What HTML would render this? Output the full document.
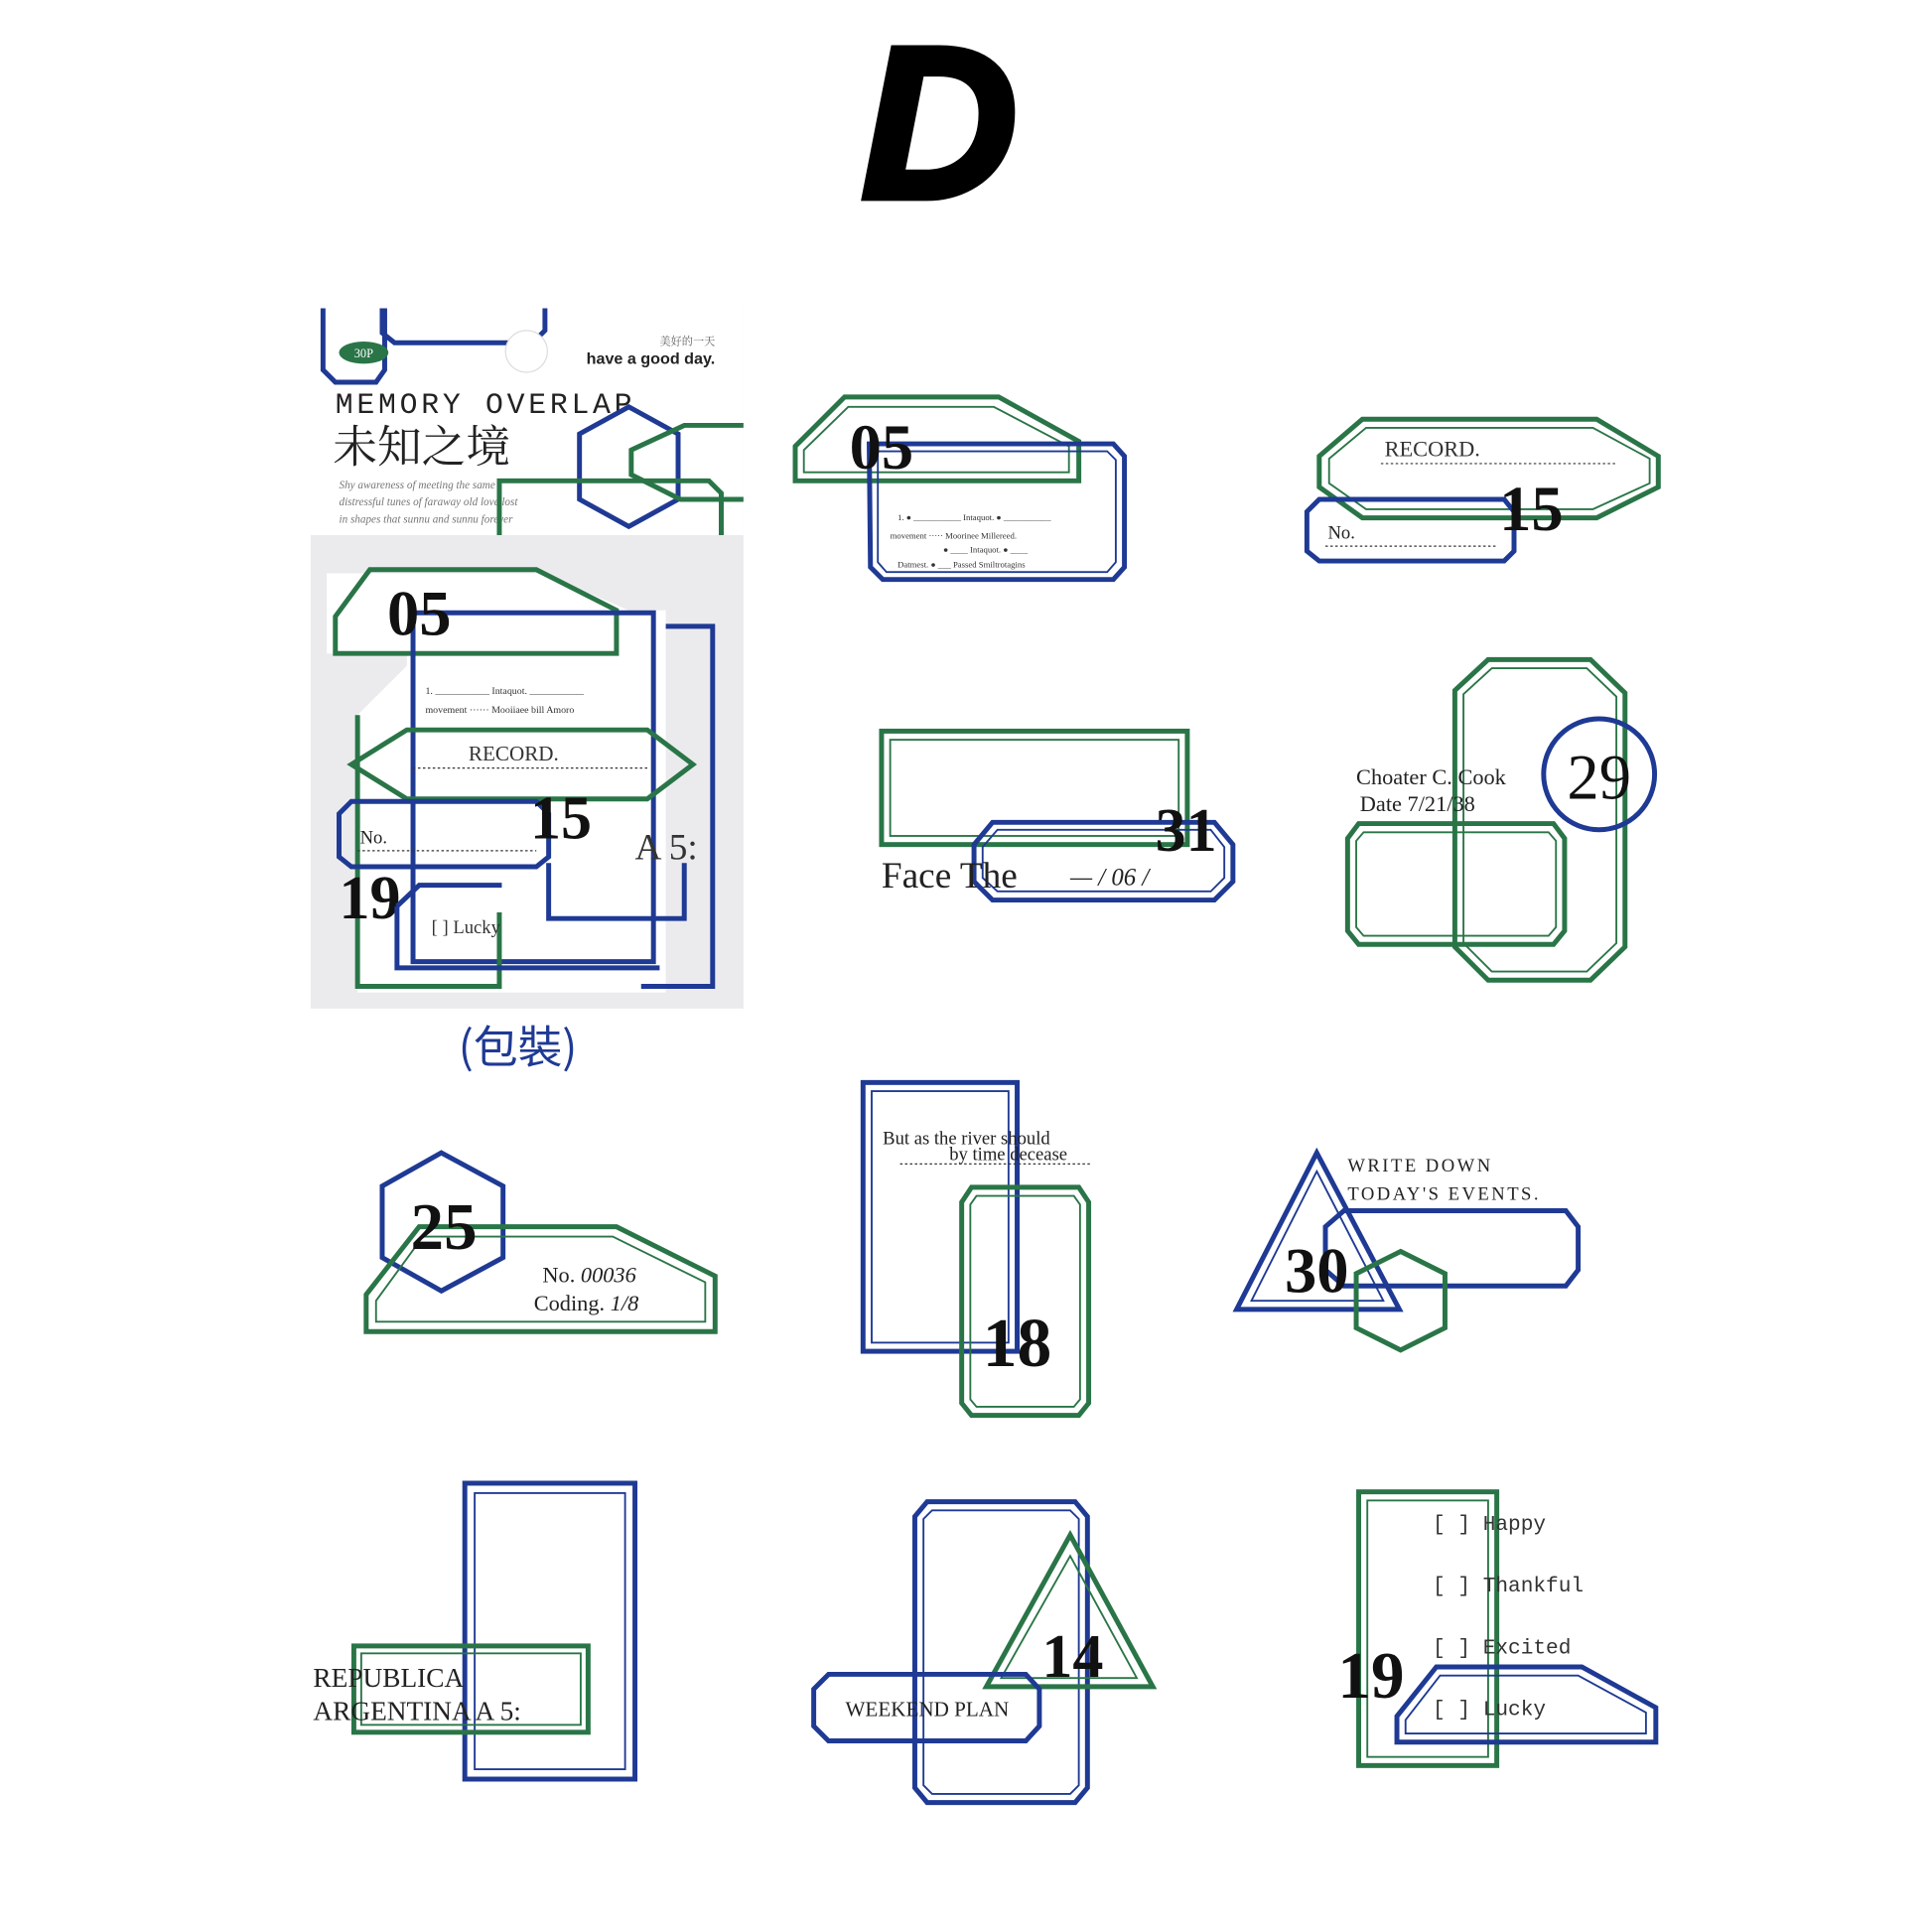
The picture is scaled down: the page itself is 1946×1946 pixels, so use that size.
<!DOCTYPE html>
<html><head><meta charset="utf-8"><style>
html,body{margin:0;padding:0;background:#fff;width:1946px;height:1946px;overflow:hidden}
svg{display:block}
text{font-family:"Liberation Serif","Noto Serif CJK SC",serif}
.g{fill:none;stroke:#2a7547;stroke-width:4}
.g2{fill:none;stroke:#2a7547;stroke-width:1.5}
.b{fill:none;stroke:#1f3a94;stroke-width:4}
.b2{fill:none;stroke:#1f3a94;stroke-width:1.5}
.n{font-weight:bold;fill:#111}
</style></head><body>
<svg width="1946" height="1946" viewBox="0 0 1567 1567" xmlns="http://www.w3.org/2000/svg">
<!-- D -->
<text x="762" y="160" font-size="175" font-weight="bold" font-style="italic" text-anchor="middle" fill="#000" stroke="#000" stroke-width="6" style="font-family:'Liberation Sans',sans-serif">D</text>

<!-- package -->
<rect x="252" y="248" width="351" height="570" fill="#ebebee"/>
<rect x="252" y="248" width="351" height="186" fill="#fff"/>
<path class="b" d="M262 250 V300 L272 310 H305 L312 300 V250"/>
<path class="b" d="M310 250 V270 L320 278 H432 L442 268 V250"/>
<circle cx="427" cy="285" r="17" fill="#fff" stroke="#ddd"/>
<ellipse cx="295" cy="286" rx="20" ry="9" fill="#2a7547"/>
<text x="295" y="290" font-size="10" fill="#fff" text-anchor="middle">30P</text>
<text x="580" y="280" font-size="9" fill="#666" text-anchor="end">美好的一天</text>
<text x="580" y="295" font-size="13" font-weight="bold" fill="#222" text-anchor="end" style="font-family:'Liberation Sans',sans-serif">have a good day.</text>
<text x="272" y="335" font-size="24" fill="#222" letter-spacing="3" style="font-family:'Liberation Mono',monospace">MEMORY OVERLAP</text>
<text x="270" y="375" font-size="36" fill="#222" style="font-family:'Noto Serif CJK SC',serif">未知之境</text>
<text x="275" y="396" font-size="9" font-style="italic" fill="#777">Shy awareness of meeting the same</text>
<text x="275" y="410" font-size="9" font-style="italic" fill="#777">distressful tunes of faraway old love lost</text>
<text x="275" y="424" font-size="9" font-style="italic" fill="#777">in shapes that sunnu and sunnu forever</text>
<polygon class="b" points="510,330 550,352 550,405 510,427 470,405 470,352"/>
<path class="g" d="M603 345 H555 L512 365 V385 L552 405 H603"/>
<path class="g" d="M405 434 V390 H575 L585 400 V434"/>
<!-- package stickers -->
<path fill="#fff" d="M265 465 H440 L510 495 H540 V805 H290 V580 L330 540 V530 H265 Z"/>
<path class="g" d="M272 500 L300 462 H435 L500 495 V530 H272 Z"/>
<path class="b" d="M335 497 H530 V780 H335 Z"/>
<path class="b" d="M540 508 H578 V800 H520"/>
<text x="340" y="515" class="n" font-size="52" text-anchor="middle" fill="#111">05</text>
<text x="345" y="563" font-size="8" fill="#333">1. ___________ Intaquot. ___________</text>
<text x="345" y="578" font-size="8" fill="#333">movement ······ Mooiiaee bill Amoro</text>
<path class="g" d="M290 580 V800 H405 V740"/>
<path class="g" d="M285 620 L330 592 H525 L562 620 L525 648 H330 Z"/>
<text x="380" y="617" font-size="17" fill="#333">RECORD.</text>
<line x1="335" y1="623" x2="525" y2="623" stroke="#333" stroke-dasharray="2 2"/>
<path class="b" d="M275 660 L285 650 H435 L445 660 V695 L435 703 H285 L275 695 Z"/>
<text x="292" y="684" font-size="15" fill="#222">No.</text>
<line x1="290" y1="690" x2="435" y2="690" stroke="#333" stroke-dasharray="2 2"/>
<text x="455" y="680" class="n" font-size="50" text-anchor="middle">15</text>
<text x="515" y="697" font-size="30" fill="#333">A 5:</text>
<path class="b" d="M445 700 V745 H555 V700"/>
<text x="300" y="745" class="n" font-size="50" text-anchor="middle">19</text>
<path class="b" d="M322 735 L340 718 H405 V720 M322 735 V785 H535"/>
<text x="350" y="757" font-size="15" fill="#333">[ ]  Lucky</text>
<text x="420" y="862" font-size="36" fill="#1f3a94" text-anchor="middle" style="font-family:'Noto Sans CJK SC',sans-serif">(包裝)</text>

<!-- sticker 05 -->
<path class="g" d="M645 362 L685 322 H810 L875 358 V390 H645 Z"/>
<path class="g2" d="M652 365 L688 330 H806 L867 362 V383 H652 Z"/>
<path class="b" d="M705 360 H903 L912 370 V460 L903 470 H716 L706 460 Z"/>
<path class="b2" d="M712 366 H898 L905 373 V456 L898 464 H719 L712 456 Z"/>
<text x="715" y="380" class="n" font-size="52" text-anchor="middle">05</text>
<text x="728" y="422" font-size="7" fill="#333">1. ● ___________ Intaquot. ● ___________</text>
<text x="722" y="437" font-size="7" fill="#333">movement ····· Moorinee Millereed.</text>
<text x="765" y="448" font-size="7" fill="#333">● ____ Intaquot. ● ____</text>
<text x="728" y="460" font-size="7" fill="#333">Datmest. ● ___ Passed Smiltrotagins</text>

<!-- sticker record 15 -->
<path class="g" d="M1070 370 L1105 340 H1295 L1345 370 V395 L1295 420 H1105 L1070 395 Z"/>
<path class="g2" d="M1078 372 L1108 347 H1292 L1338 372 V392 L1292 413 H1108 L1078 392 Z"/>
<text x="1123" y="370" font-size="18" fill="#333">RECORD.</text>
<line x1="1120" y1="376" x2="1310" y2="376" stroke="#333" stroke-dasharray="2 2"/>
<path class="b" d="M1060 415 L1070 405 H1220 L1228 415 V447 L1220 455 H1070 L1060 447 Z"/>
<text x="1077" y="437" font-size="15" fill="#222">No.</text>
<line x1="1075" y1="443" x2="1215" y2="443" stroke="#333" stroke-dasharray="2 2"/>
<text x="1242" y="430" class="n" font-size="52" text-anchor="middle">15</text>

<!-- Face the 31 -->
<rect class="g" x="715" y="593" width="248" height="92"/>
<rect class="g2" x="722" y="600" width="234" height="78"/>
<path class="b" d="M790 685 L805 667 H985 L1000 685 V715 L985 730 H805 L790 715 Z"/>
<path class="b2" d="M797 687 L809 673 H982 L993 687 V712 L982 723 H809 L797 712 Z"/>
<text x="962" y="690" class="n" font-size="50" text-anchor="middle">31</text>
<text x="715" y="720" font-size="30" fill="#222">Face The</text>
<text x="868" y="718" font-size="20" fill="#222" font-style="italic">— / 06 /</text>

<!-- 29 -->
<path class="g" d="M1180 560 L1207 535 H1290 L1318 562 V768 L1290 795 H1207 L1180 768 Z"/>
<path class="g2" d="M1187 563 L1210 542 H1287 L1311 565 V765 L1287 788 H1210 L1187 765 Z"/>
<path class="g" d="M1093 680 L1102 668 H1260 L1269 680 V755 L1260 766 H1102 L1093 755 Z"/>
<path class="g2" d="M1100 682 L1106 675 H1256 L1262 682 V752 L1256 759 H1106 L1100 752 Z"/>
<circle class="b" cx="1297" cy="628" r="45"/>
<text x="1297" y="648" font-size="52" fill="#111" text-anchor="middle">29</text>
<text x="1100" y="636" font-size="18" fill="#222">Choater  C.  Cook</text>
<text x="1103" y="658" font-size="18" fill="#222">Date  7/21/38</text>

<!-- 25 -->
<polygon class="b" points="358,935 408,962 408,1020 358,1047 310,1020 310,962"/>
<path class="g" d="M297 1050 L340 995 H500 L580 1035 V1080 H297 Z"/>
<path class="g2" d="M305 1055 L343 1003 H497 L572 1040 V1072 H305 Z"/>
<text x="360" y="1013" class="n" font-size="54" text-anchor="middle">25</text>
<text x="440" y="1040" font-size="18" fill="#222">No. <tspan font-style="italic">00036</tspan></text>
<text x="433" y="1063" font-size="18" fill="#222">Coding. <tspan font-style="italic">1/8</tspan></text>

<!-- 18 -->
<rect class="b" x="700" y="878" width="125" height="218"/>
<rect class="b2" x="707" y="885" width="111" height="204"/>
<path class="g" d="M780 975 L788 963 H875 L883 975 V1138 L875 1148 H788 L780 1138 Z"/>
<path class="g2" d="M787 977 L792 970 H871 L876 977 V1135 L871 1141 H792 L787 1135 Z"/>
<text x="716" y="928" font-size="15" fill="#222">But as the river should</text>
<text x="770" y="941" font-size="15" fill="#222">by time decease</text>
<line x1="730" y1="944" x2="885" y2="944" stroke="#333" stroke-dasharray="2 2"/>
<text x="825" y="1108" class="n" font-size="56" text-anchor="middle">18</text>

<!-- 30 -->
<polygon class="b" points="1068,935 1135,1062 1003,1062"/>
<polygon class="b2" points="1068,950 1122,1055 1015,1055"/>
<path class="b" d="M1075 995 L1090 982 H1270 L1280 995 V1030 L1270 1043 H1090 L1075 1030 Z"/>
<polygon class="g" points="1136,1015 1172,1033 1172,1077 1136,1095 1100,1077 1100,1033"/>
<text x="1093" y="950" font-size="15" fill="#222" letter-spacing="2">WRITE DOWN</text>
<text x="1093" y="973" font-size="15" fill="#222" letter-spacing="2">TODAY'S EVENTS.</text>
<text x="1068" y="1048" class="n" font-size="52" text-anchor="middle">30</text>

<!-- Republica -->
<rect class="b" x="377" y="1203" width="138" height="240"/>
<rect class="b2" x="385" y="1211" width="122" height="224"/>
<rect class="g" x="287" y="1335" width="190" height="70"/>
<rect class="g2" x="293" y="1341" width="178" height="58"/>
<text x="254" y="1368" font-size="22" fill="#222">REPUBLICA</text>
<text x="254" y="1395" font-size="22" fill="#222">ARGENTINA  A 5:</text>

<!-- weekend -->
<path class="b" d="M742 1230 L752 1218 H872 L882 1230 V1450 L872 1462 H752 L742 1450 Z"/>
<path class="b2" d="M749 1232 L756 1225 H868 L875 1232 V1448 L868 1455 H756 L749 1448 Z"/>
<polygon class="g" points="868,1245 935,1368 800,1368"/>
<polygon class="g2" points="868,1262 922,1361 812,1361"/>
<path class="b" d="M660 1370 L672 1358 H832 L843 1370 V1400 L832 1412 H672 L660 1400 Z"/>
<text x="752" y="1392" font-size="17" fill="#222" text-anchor="middle">WEEKEND PLAN</text>
<text x="870" y="1360" class="n" font-size="50" text-anchor="middle">14</text>

<!-- checklist -->
<rect class="g" x="1102" y="1210" width="112" height="222"/>
<rect class="g2" x="1109" y="1217" width="98" height="208"/>
<path class="b" d="M1133 1392 L1165 1352 H1283 L1343 1385 V1413 H1133 Z"/>
<path class="b2" d="M1140 1395 L1168 1359 H1280 L1335 1389 V1406 H1140 Z"/>
<text x="1162" y="1241" font-size="17" fill="#333" style="font-family:'Liberation Mono',monospace">[ ] Happy</text>
<text x="1162" y="1291" font-size="17" fill="#333" style="font-family:'Liberation Mono',monospace">[ ] Thankful</text>
<text x="1162" y="1341" font-size="17" fill="#333" style="font-family:'Liberation Mono',monospace">[ ] Excited</text>
<text x="1162" y="1391" font-size="17" fill="#333" style="font-family:'Liberation Mono',monospace">[ ] Lucky</text>
<text x="1112" y="1377" class="n" font-size="54" text-anchor="middle">19</text>
</svg>
</body></html>
